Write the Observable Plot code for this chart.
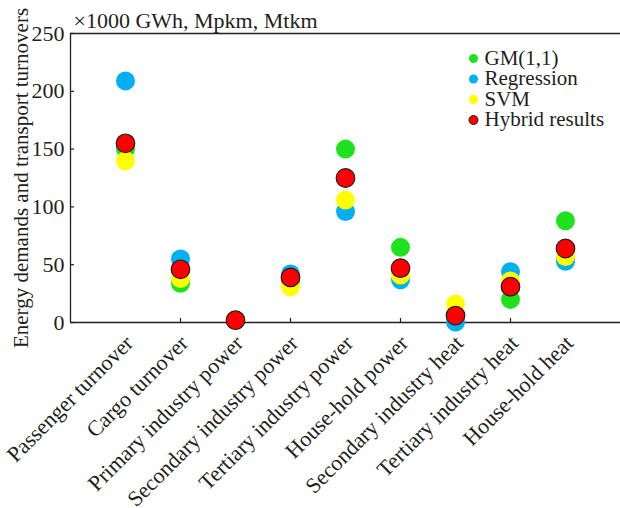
<!DOCTYPE html>
<html><head><meta charset="utf-8">
<script src="https://cdn.jsdelivr.net/npm/d3@7"></script>
<script src="https://cdn.jsdelivr.net/npm/@observablehq/plot@0.6"></script>
<style>body{margin:0;background:#fff} #chart{width:620px;height:508px}</style>
</head><body><div id="chart"></div>
<script>
const categories = ["Passenger turnover","Cargo turnover","Primary industry power","Secondary industry power","Tertiary industry power","House-hold power","Secondary industry heat","Tertiary industry heat","House-hold heat"];
const seriesNames = ["GM(1,1)","Regression","SVM","Hybrid results"];
const gm = [150, 34, 2, 36, 150, 65, 5, 20, 88];
const regression = [209, 55, 2, 42, 96, 37, 0.5, 44, 53];
const svm = [140, 38, 2, 31, 106, 41, 16, 36, 57];
const hybrid = [155, 46, 2, 39, 125, 47, 6, 31, 64];
const yTicks = [0, 50, 100, 150, 200, 250];
const xTicks = [2, 4, 6, 8];
const unitTitle = "×1000 GWh, Mpkm, Mtkm";
const yTitle = "Energy demands and transport turnovers";
const colors = ["#1ee21e", "#00b0f0", "#ffff00", "#ff0000"];
const ink = "#231f20";

const seriesValues = [gm, regression, svm, hybrid];
const rows = [];
seriesValues.forEach((vals, s) => vals.forEach((v, i) => rows.push({series: seriesNames[s], idx: i + 1, value: v})));
const catRows = categories.map((c, i) => ({label: c, idx: i + 1}));

const legendMarks = [];
seriesNames.forEach((name, i) => {
  legendMarks.push(Plot.dot([name], {frameAnchor: "top-left", dx: 403, dy: 25 + 20.5 * i, r: 4.5, fill: d => d,
    stroke: i === 3 ? ink : null, strokeWidth: 1}));
  legendMarks.push(Plot.text([name], {frameAnchor: "top-left", dx: 414, dy: 24.5 + 20.5 * i, text: d => d, textAnchor: "start", lineAnchor: "middle", fill: ink}));
});

const chart = Plot.plot({
  width: 620, height: 508,
  marginLeft: 70, marginRight: 0, marginTop: 33, marginBottom: 186,
  style: {fontFamily: "'Liberation Serif', 'Times New Roman', serif", fontSize: "21px", color: ink, background: "#fff"},
  x: {domain: [0, 10], axis: null},
  y: {domain: [0, 250], axis: null},
  color: {domain: seriesNames, range: colors},
  marks: [
    Plot.ruleY([0, 250], {stroke: ink, strokeWidth: 1.3}),
    Plot.ruleX([0], {stroke: ink, strokeWidth: 1.3}),
    Plot.tickY(yTicks, {y: d => d, insetRight: 546, stroke: ink, strokeWidth: 1.2}),
    Plot.tickX(xTicks, {x: d => d, insetTop: 285, stroke: ink, strokeWidth: 1.2}),
    Plot.axisY(yTicks, {anchor: "left", tickSize: 0, tickPadding: 6, label: null, fontSize: 22, fill: ink}),
    Plot.dot(rows.filter(d => d.series !== "Hybrid results"), {x: "idx", y: "value", fill: "series", r: 9.5}),
    Plot.dot(rows.filter(d => d.series === "Hybrid results"), {x: "idx", y: "value", fill: "series", r: 9.3, stroke: ink, strokeWidth: 1.2}),
    Plot.text(catRows, {x: "idx", frameAnchor: "bottom", text: "label", rotate: -45, textAnchor: "end", lineAnchor: "bottom", dx: 9, dy: 22, fontSize: 22, fill: ink}),
    ...legendMarks,
    Plot.text([unitTitle], {frameAnchor: "top-left", text: d => d, textAnchor: "start", lineAnchor: "bottom", dx: 3, dy: -6, fontSize: 22, fill: ink}),
    Plot.text([yTitle], {frameAnchor: "left", text: d => d, rotate: -90, textAnchor: "middle", dx: -49, fill: ink})
  ]
});
document.getElementById("chart").appendChild(chart);
</script>
</body></html>
